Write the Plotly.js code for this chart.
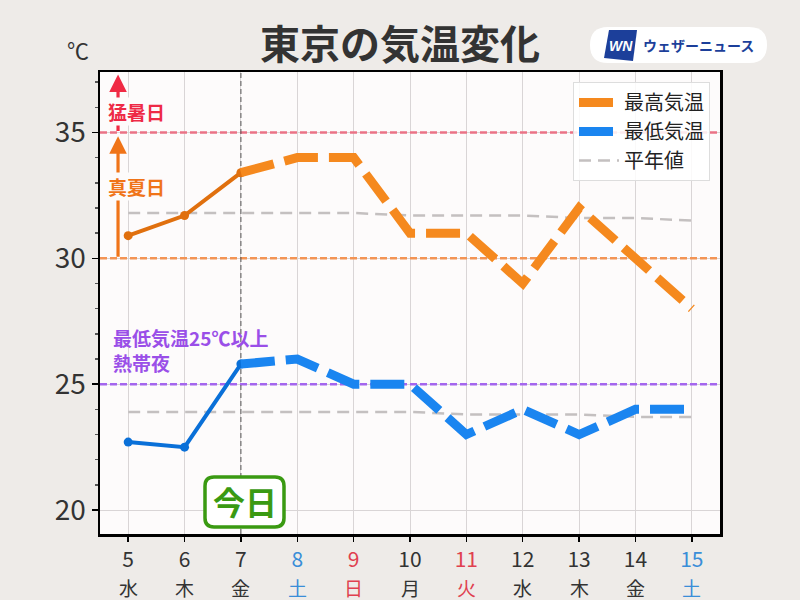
<!DOCTYPE html>
<html><head><meta charset="utf-8">
<script src="https://cdn.plot.ly/plotly-3.0.1.min.js"></script>
<style>html,body{margin:0;padding:0;background:#eeebe8}</style>
</head><body><div id="chart" style="width:800px;height:600px"></div>
<script>
const days = [5,6,7,8,9,10,11,12,13,14,15];
const weekdays = ['水','木','金','土','日','月','火','水','木','金','土'];
const dayColors = ['#333333','#333333','#333333','#3a8ed8','#e0404f','#333333','#e0404f','#333333','#333333','#333333','#3a8ed8'];
const obsDays = [5,6,7];
const obsHigh = [30.9,31.7,33.4];
const obsLow = [22.7,22.5,25.8];
const fcDays = [7,8,9,10,11,12,13,14,15];
const fcHigh = [33.4,34,34,31,31,29,32,30,28];
const fcLow = [25.8,26,25,25,23,24,23,24,24];
const normHigh = [31.8,31.8,31.8,31.8,31.8,31.7,31.7,31.7,31.6,31.6,31.5];
const normLow = [23.9,23.9,23.9,23.9,23.9,23.9,23.8,23.8,23.8,23.7,23.7];
const yTicks = [20,25,30,35];
const thresholds = [35,30,25];
const thresholdColors = ['#ea7386','#f39454','#a466ee'];
const todayDay = 7;

const FONT = '"Noto Sans CJK JP", "Noto Sans", sans-serif';
const L = 100, R = 80, T = 72, B = 66, W = 800, H = 600;
const PW = W - L - R, PH = H - T - B;
const XR = [4.5, 15.5], YR = [19.05, 37.4];
const px = v => (v - L) / PW;
const py = v => (H - B - v) / PH;

function roundRect(x0, y0, x1, y1, r) {
  const P = (x, y) => px(x).toFixed(5) + ',' + py(y).toFixed(5);
  return 'M' + P(x0 + r, y0) + ' L' + P(x1 - r, y0) + ' Q' + P(x1, y0) + ' ' + P(x1, y0 + r) +
    ' L' + P(x1, y1 - r) + ' Q' + P(x1, y1) + ' ' + P(x1 - r, y1) +
    ' L' + P(x0 + r, y1) + ' Q' + P(x0, y1) + ' ' + P(x0, y1 - r) +
    ' L' + P(x0, y0 + r) + ' Q' + P(x0, y0) + ' ' + P(x0 + r, y0) + ' Z';
}

const traces = [];
thresholds.forEach((t, i) => traces.push({
  x: XR, y: [t, t], mode: 'lines', showlegend: false, hoverinfo: 'skip',
  line: {color: thresholdColors[i], width: 2.4, dash: '7px,3px'}
}));
traces.push({x: [todayDay, todayDay], y: YR, mode: 'lines', showlegend: false, hoverinfo: 'skip',
  line: {color: '#555555', width: 1, dash: '5px,3px'}});
traces.push(
  {x: days, y: normHigh, mode: 'lines', name: '平年値', showlegend: false,
   line: {color: '#c4c0c0', width: 2.5, dash: '12px,7px'}},
  {x: days, y: normLow, mode: 'lines', name: '平年値', showlegend: false,
   line: {color: '#c4c0c0', width: 2.5, dash: '12px,7px'}},
  {x: obsDays, y: obsHigh, mode: 'lines+markers', showlegend: false,
   line: {color: '#e0700e', width: 4}, marker: {size: 9, color: '#e0700e'}},
  {x: obsDays, y: obsLow, mode: 'lines+markers', showlegend: false,
   line: {color: '#0a70d8', width: 4}, marker: {size: 9, color: '#0a70d8'}},
  {x: fcDays, y: fcHigh, mode: 'lines', name: '最高気温',
   line: {color: '#f5891e', width: 9, dash: '34px,11px'}},
  {x: fcDays, y: fcLow, mode: 'lines', name: '最低気温',
   line: {color: '#1a85f0', width: 9, dash: '34px,11px'}},
  {x: [null], y: [null], mode: 'lines', name: '平年値',
   line: {color: '#c4c0c0', width: 2.5, dash: '12px,7px'}}
);

const shapes = [];
// 今日 box
shapes.push({type: 'path', xref: 'paper', yref: 'paper', layer: 'above',
  path: roundRect(205, 477, 284, 527, 9), fillcolor: '#ffffff',
  line: {color: '#3a9a12', width: 3.5}});
// logo pill
shapes.push({type: 'path', xref: 'paper', yref: 'paper', layer: 'above',
  path: roundRect(590, 27, 767, 63, 18), fillcolor: '#ffffff', line: {width: 0}});
// WN logo
shapes.push({type: 'path', xref: 'paper', yref: 'paper', layer: 'above',
  path: 'M' + px(609) + ',' + py(30) + ' L' + px(637) + ',' + py(30) + ' L' + px(633) + ',' + py(61) + ' L' + px(604) + ',' + py(58) + ' Z',
  fillcolor: '#1c3f9a', line: {width: 0}});

const annotations = [];
days.forEach((d, i) => annotations.push({
  x: d, y: py(587), xref: 'x', yref: 'paper', text: weekdays[i], showarrow: false,
  font: {family: FONT, size: 19, color: dayColors[i]}, xanchor: 'center', yanchor: 'middle'
}));
annotations.push({x: px(78), y: py(49), xref: 'paper', yref: 'paper', text: '℃', showarrow: false,
  xanchor: 'center', yanchor: 'middle', font: {family: FONT, size: 22, color: '#333'}});
// arrows
annotations.push({x: 4.82, y: 37.3, ax: 4.82, ay: 35, xref: 'x', yref: 'y', axref: 'x', ayref: 'y',
  text: '', showarrow: true, arrowhead: 2, arrowsize: 1.1, arrowwidth: 3.2, arrowcolor: '#f02a44'});
annotations.push({x: 4.82, y: 34.85, ax: 4.82, ay: 30, xref: 'x', yref: 'y', axref: 'x', ayref: 'y',
  text: '', showarrow: true, arrowhead: 2, arrowsize: 1.1, arrowwidth: 3.2, arrowcolor: '#f07418'});
annotations.push({x: 5.14, y: 35.85, xref: 'x', yref: 'y', text: '<b>猛暑日</b>', showarrow: false,
  xanchor: 'center', yanchor: 'middle', bgcolor: '#fdfbfb', borderpad: 0,
  font: {family: FONT, size: 19, color: '#ee2a46'}});
annotations.push({x: 5.14, y: 32.85, xref: 'x', yref: 'y', text: '<b>真夏日</b>', showarrow: false,
  xanchor: 'center', yanchor: 'middle', bgcolor: '#fdfbfb', borderpad: 0,
  font: {family: FONT, size: 19, color: '#f07418'}});
annotations.push({x: 4.72, y: 26.85, xref: 'x', yref: 'y', xanchor: 'left', yanchor: 'middle',
  text: '<b>最低気温25℃以上</b>', showarrow: false, borderpad: 0,
  font: {family: FONT, size: 19, color: '#9a4fe8'}});
annotations.push({x: 4.72, y: 25.85, xref: 'x', yref: 'y', xanchor: 'left', yanchor: 'middle',
  text: '<b>熱帯夜</b>', showarrow: false, borderpad: 0,
  font: {family: FONT, size: 19, color: '#9a4fe8'}});
annotations.push({x: px(244.5), y: py(501), xref: 'paper', yref: 'paper', text: '<b>今日</b>', showarrow: false,
  xanchor: 'center', yanchor: 'middle', font: {family: FONT, size: 32, color: '#3a9a12'}});
annotations.push({x: px(620.5), y: py(45.5), xref: 'paper', yref: 'paper', text: '<b><i>WN</i></b>', showarrow: false,
  xanchor: 'center', yanchor: 'middle',
  font: {family: '"Liberation Sans", sans-serif', size: 14, color: '#ffffff'}});
annotations.push({x: px(641), y: py(45), xref: 'paper', yref: 'paper', xanchor: 'left', yanchor: 'middle',
  text: '<b>ウェザーニュース</b>', showarrow: false,
  font: {family: FONT, size: 14, color: '#1c3f9a'}});

const layout = {
  width: W, height: H,
  margin: {l: L, r: R, t: T, b: B},
  paper_bgcolor: '#eeebe8', plot_bgcolor: '#fdfbfb',
  font: {family: FONT, color: '#333'},
  title: {text: '<b>東京の気温変化</b>', x: 0.5, xanchor: 'center', y: 1 - 45 / H, yanchor: 'middle',
    font: {family: FONT, size: 40, color: '#333'}},
  xaxis: {range: XR, tickvals: days,
    ticktext: days.map((d, i) => '<span style="color:' + dayColors[i] + '">' + d + '</span>'),
    ticks: 'outside', ticklen: 5, tickwidth: 1.5, tickcolor: '#000',
    showline: true, linecolor: '#000', linewidth: 2.5, mirror: true,
    showgrid: true, gridcolor: '#d9d5d6', gridwidth: 1, zeroline: false,
    tickfont: {family: FONT, size: 21, color: '#333'}, fixedrange: true},
  yaxis: {range: YR, tickvals: yTicks,
    ticks: 'outside', ticklen: 6, tickwidth: 1.5, tickcolor: '#000',
    minor: {dtick: 1, tick0: 0, ticks: 'outside', ticklen: 3, tickcolor: '#555', showgrid: false},
    showline: true, linecolor: '#000', linewidth: 2.5, mirror: true,
    showgrid: true, gridcolor: '#d9d5d6', gridwidth: 1, zeroline: false,
    tickfont: {family: FONT, size: 28, color: '#333'}, fixedrange: true},
  legend: {x: px(710), y: py(82), xanchor: 'right', yanchor: 'top',
    bgcolor: 'rgba(255,255,255,0.85)', bordercolor: '#dddddd', borderwidth: 1,
    itemwidth: 40, font: {family: FONT, size: 20, color: '#222'}, tracegroupgap: 0},
  shapes: shapes,
  annotations: annotations,
  showlegend: true
};

Plotly.newPlot('chart', traces, layout, {displayModeBar: false, staticPlot: true});
</script>
</body></html>
